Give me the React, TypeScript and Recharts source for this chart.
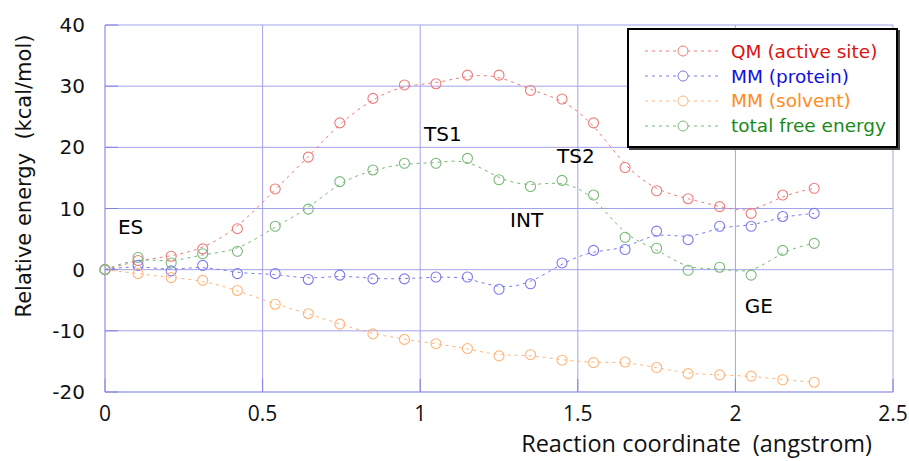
import { LineChart, Line, XAxis, YAxis, CartesianGrid, Legend, ReferenceDot } from 'recharts'

// reaction coordinate (angstrom)
const coords = [0, 0.105, 0.21, 0.31, 0.42, 0.54, 0.645, 0.745, 0.85, 0.95, 1.05, 1.15, 1.25, 1.35, 1.45, 1.55, 1.65, 1.75, 1.85, 1.95, 2.05, 2.15, 2.25]
// energies (kcal/mol)
const qmActive = [0, 1.5, 2.2, 3.4, 6.7, 13.2, 18.4, 24.0, 28.0, 30.2, 30.4, 31.8, 31.8, 29.3, 27.9, 24.0, 16.7, 12.9, 11.6, 10.3, 9.2, 12.2, 13.3]
const mmProtein = [0, 0.7, -0.2, 0.7, -0.65, -0.65, -1.6, -0.9, -1.5, -1.5, -1.2, -1.2, -3.2, -2.3, 1.1, 3.15, 3.3, 6.3, 4.9, 7.1, 7.1, 8.7, 9.2]
const mmSolvent = [0, -0.65, -1.3, -1.75, -3.4, -5.65, -7.2, -8.9, -10.5, -11.4, -12.1, -12.9, -14.1, -13.9, -14.8, -15.2, -15.1, -16.0, -17.0, -17.2, -17.4, -18.0, -18.4]
const totalFree = [0, 2.0, 1.1, 2.6, 3.0, 7.1, 9.9, 14.4, 16.3, 17.4, 17.4, 18.2, 14.7, 13.6, 14.6, 12.2, 5.3, 3.5, -0.1, 0.4, -0.9, 3.15, 4.3]

const xTicks = [0, 0.5, 1, 1.5, 2, 2.5]
const yTicks = [-20, -10, 0, 10, 20, 30, 40]

// state labels placed in data coords
const stateLabels = [
  { name: 'ES', x: 0.041, y: 5.75 },
  { name: 'TS1', x: 1.012, y: 21.1 },
  { name: 'TS2', x: 1.434, y: 17.5 },
  { name: 'INT', x: 1.285, y: 6.9 },
  { name: 'GE', x: 2.03, y: -7.1 },
]

const series = [
  { key: 'qm', name: 'QM (active site)', line: '#f07a7a', text: '#dd1111' },
  { key: 'protein', name: 'MM (protein)', line: '#7a7af0', text: '#1111dd' },
  { key: 'solvent', name: 'MM (solvent)', line: '#ffb57a', text: '#ff8c22' },
  { key: 'total', name: 'total free energy', line: '#7ab87a', text: '#1a8a1a' },
]

const data = coords.map((x, i) => ({
  x,
  qm: qmActive[i],
  protein: mmProtein[i],
  solvent: mmSolvent[i],
  total: totalFree[i],
}))

const GRID = '#a3a3ec'
const WIDE = '"DejaVu Sans", Verdana, sans-serif'
const NARROW = '"Open Sans", sans-serif'

const HollowDot = (color: string) => (props: any) => {
  const { cx, cy, index } = props
  if (cx == null || cy == null) return null
  return <circle key={`d-${index}`} cx={cx} cy={cy} r={5} fill="none" stroke={color} strokeWidth={1.1} />
}

const LegendBox = () => (
  <div
    style={{
      width: 267,
      height: 107,
      border: '2px solid #000',
      boxShadow: '2px 2px 0 #444',
      background: '#fff',
      paddingTop: 9,
      boxSizing: 'content-box',
      fontFamily: WIDE,
      fontSize: 18.5,
    }}
  >
    {series.map((s) => (
      <div key={s.key} style={{ display: 'flex', alignItems: 'center', height: 24.8, paddingLeft: 16 }}>
        <svg width={75} height={14} style={{ marginRight: 11, flexShrink: 0 }}>
          <line x1={0} y1={7} x2={75} y2={7} stroke={s.line} strokeDasharray="3 4" />
          <circle cx={38} cy={7} r={5} fill="#fff" stroke={s.line} />
        </svg>
        <span style={{ color: s.text, whiteSpace: 'nowrap' }}>{s.name}</span>
      </div>
    ))}
  </div>
)

export default function App() {
  return (
    <div style={{ position: 'absolute', left: 0, top: 0, width: 909, height: 461, background: '#fff' }}>
      <LineChart width={909} height={461} data={data} margin={{ top: 25, right: 16, bottom: 0, left: 0 }}>
        <CartesianGrid stroke={GRID} strokeWidth={1} horizontalValues={yTicks} verticalValues={xTicks} />
        <XAxis
          type="number"
          dataKey="x"
          domain={[0, 2.5]}
          ticks={xTicks}
          height={69}
          stroke={GRID}
          tickLine={{ stroke: '#8080e0' }}
          tickSize={-13}
          tickMargin={27}
          tick={{ fill: '#111', fontSize: 21, fontFamily: NARROW }}
          label={({ viewBox }: any) => (
            <text
              x={viewBox.x + viewBox.width - 21}
              y={viewBox.y + 60}
              textAnchor="end"
              fill="#111"
              fontSize={23.5}
              fontFamily={NARROW}
            >
              {'Reaction coordinate\u00a0 (angstrom)'}
            </text>
          )}
        />
        <YAxis
          type="number"
          domain={[-20, 40]}
          ticks={yTicks}
          width={105}
          stroke={GRID}
          tickLine={{ stroke: '#8080e0' }}
          tickSize={-13}
          tickMargin={33}
          tick={{ fill: '#111', fontSize: 20, fontFamily: WIDE }}
          label={() => (
            <text
              x={31}
              y={176}
              transform="rotate(-90, 31, 176)"
              textAnchor="middle"
              fill="#111"
              fontSize={21}
              fontFamily={WIDE}
            >
              {'Relative energy\u00a0 (kcal/mol)'}
            </text>
          )}
        />
        {series.map((s) => (
          <Line
            key={s.key}
            type="basis"
            dataKey={s.key}
            name={s.name}
            stroke={s.line}
            strokeWidth={1}
            strokeDasharray="3 4"
            dot={HollowDot(s.line)}
            activeDot={false}
            isAnimationActive={false}
          />
        ))}
        {stateLabels.map((l) => (
          <ReferenceDot
            key={l.name}
            x={l.x}
            y={l.y}
            r={0}
            ifOverflow="visible"
            shape={(p: any) => (
              <text x={p.cx} y={p.cy} fill="#000" fontSize={20} fontFamily={WIDE}>
                {l.name}
              </text>
            )}
          />
        ))}
        <Legend
          content={LegendBox}
          layout="horizontal"
          align="center"
          verticalAlign="middle"
          wrapperStyle={{ left: 627, top: 28, width: 271, bottom: 'auto', right: 'auto' }}
        />
      </LineChart>
    </div>
  )
}
